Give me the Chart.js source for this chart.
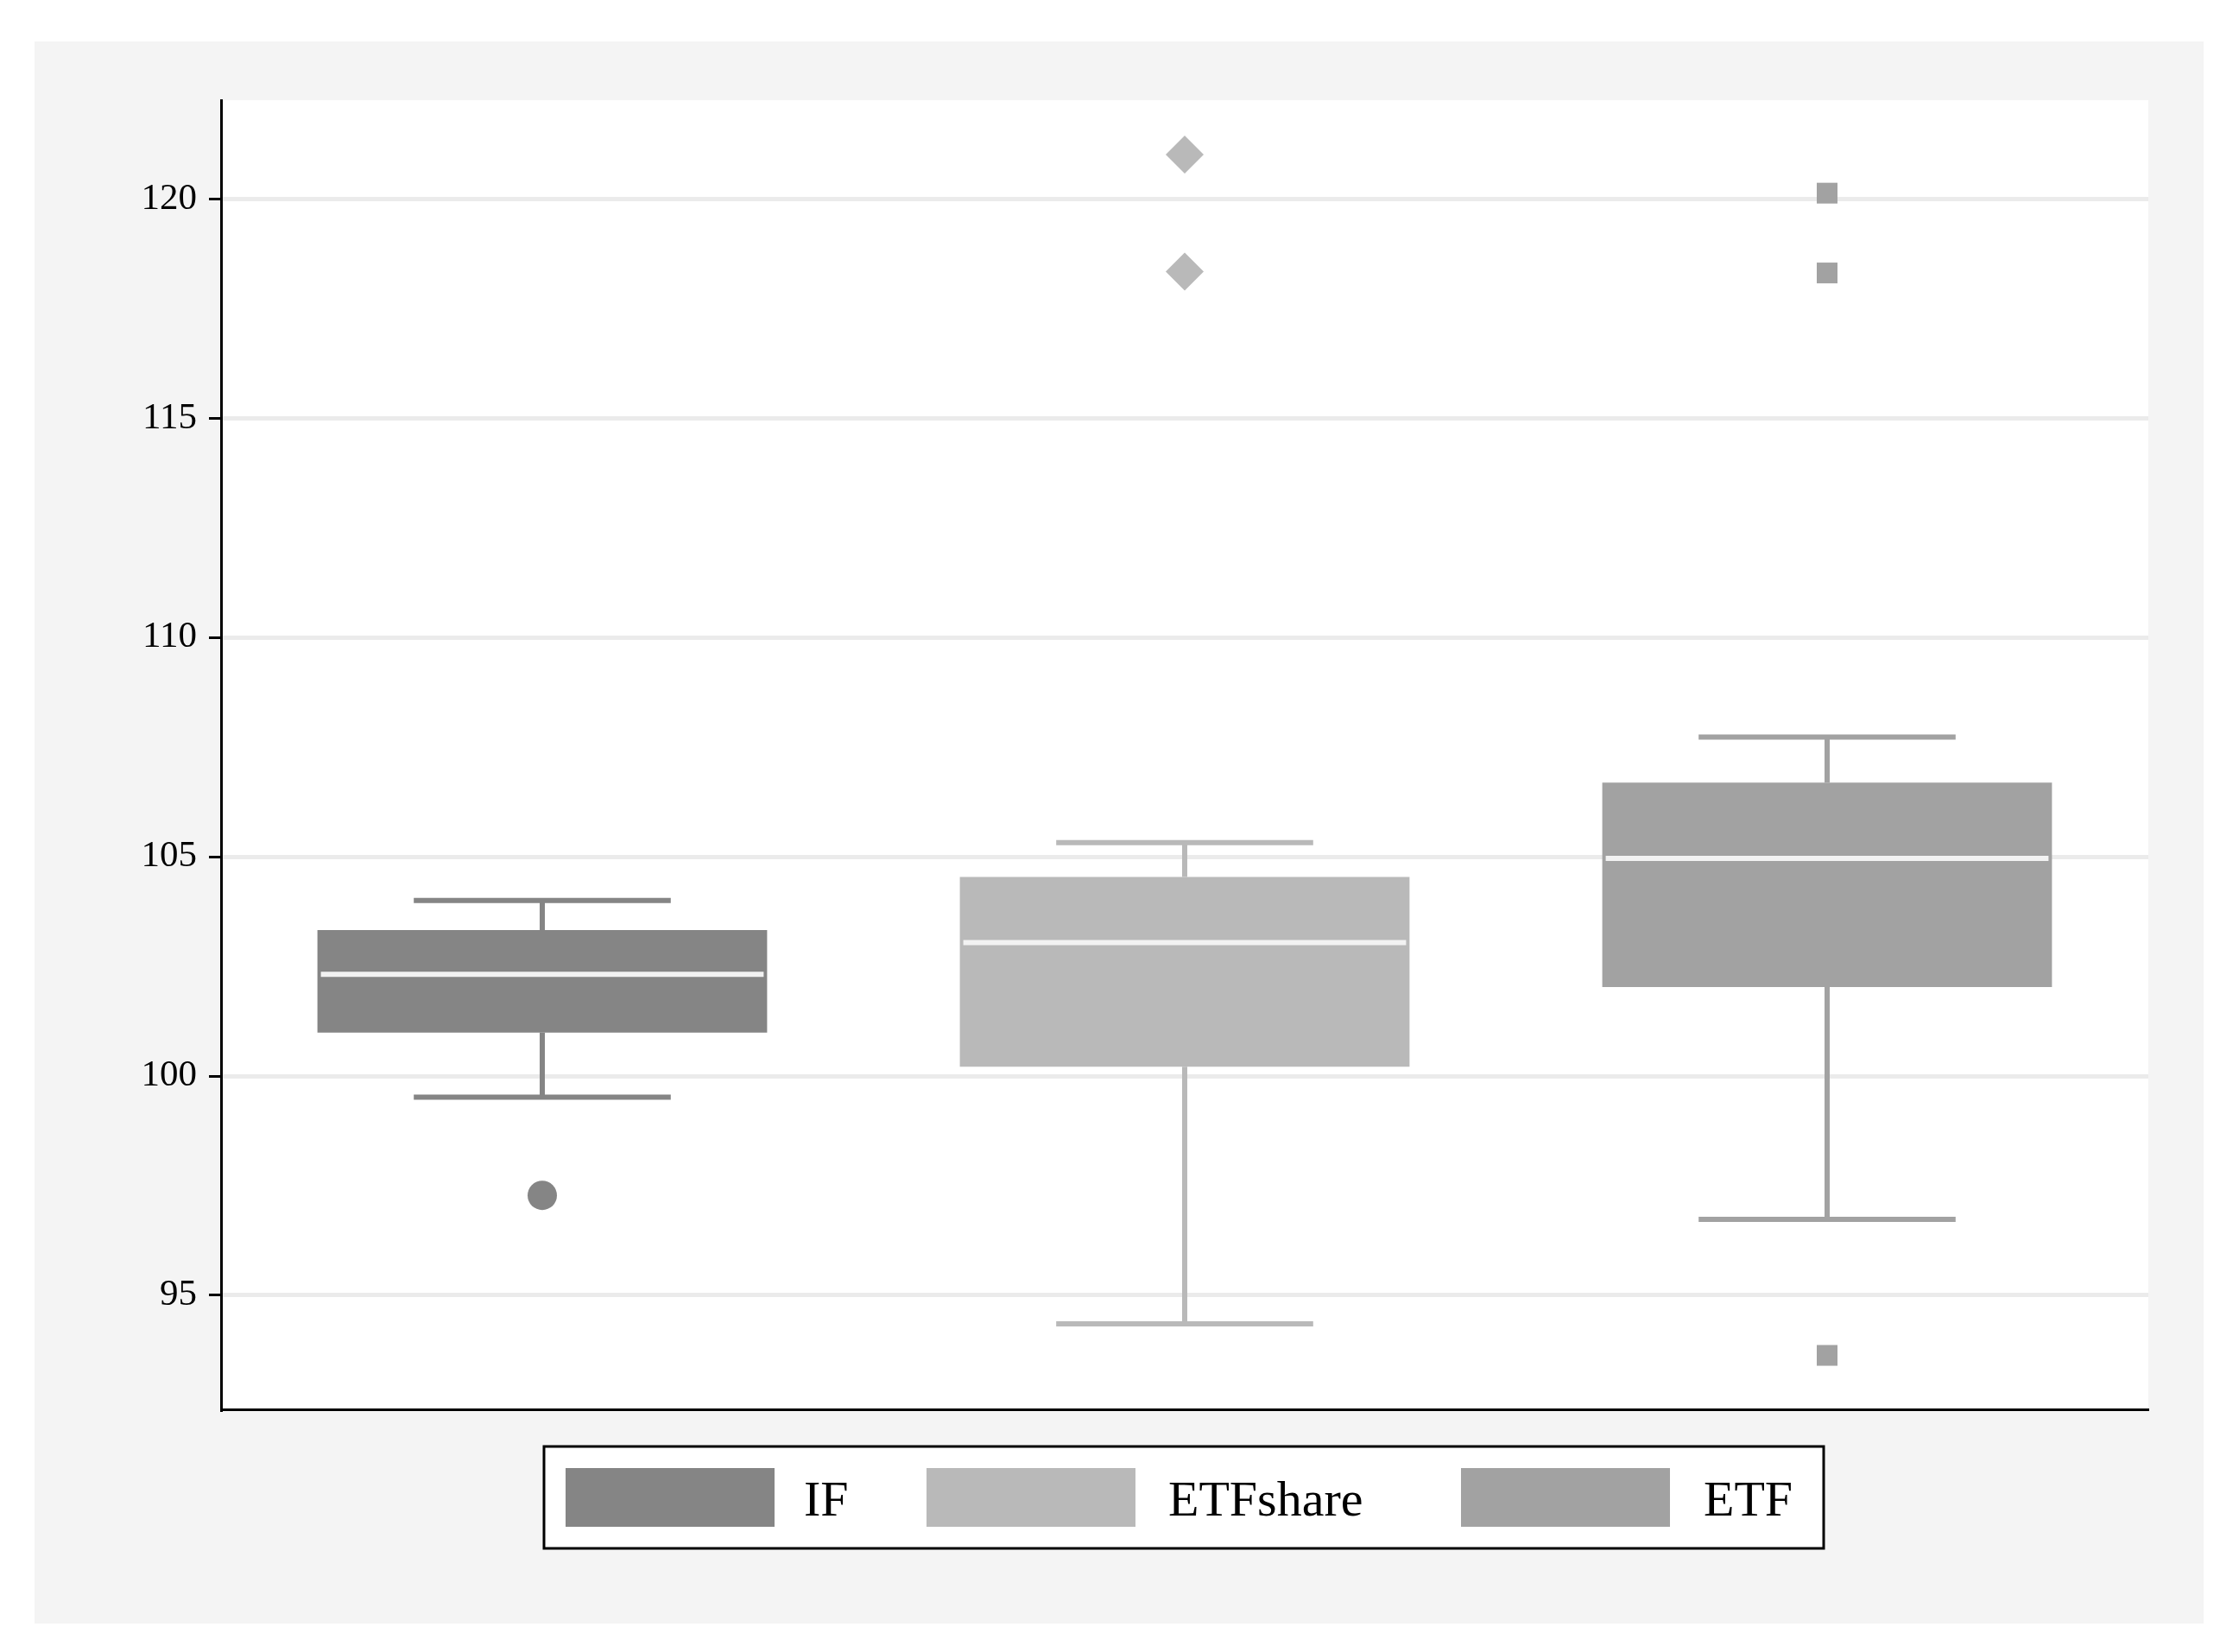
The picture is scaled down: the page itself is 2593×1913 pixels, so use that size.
<!DOCTYPE html>
<html><head><meta charset="utf-8">
<script src="https://cdn.jsdelivr.net/npm/chart.js@4"></script>
<style>html,body{margin:0;padding:0;background:#fff}#wrap{width:2593px;height:1913px}</style>
</head><body><div id="wrap"><canvas id="c" width="2593" height="1913"></canvas></div>
<script>
const categories = ['IF','ETFshare','ETF'];
const colors = ['#858585','#b9b9b9','#a2a2a2'];
const whiskerLow = [99.52, 94.35, 96.73];
const q1 = [100.99, 100.21, 102.03];
const medians = [102.32, 103.04, 104.96];
const q3 = [103.33, 104.54, 106.69];
const whiskerHigh = [104.0, 105.32, 107.73];
const outliers = [[97.28],[121.01,118.34],[120.13,118.31,93.63]];
const pointStyles = ['circle','rectRot','rect'];
const yTicks = [95,100,105,110,115,120];

const datasets = categories.map((c,i)=>({
  type:'bar', label:c, backgroundColor:colors[i], grouped:false,
  barPercentage:0.7, categoryPercentage:1, borderWidth:0,
  data: categories.map((_,j)=> j===i ? [q1[i],q3[i]] : null)
}));
categories.forEach((c,i)=>datasets.push({
  type:'line', label:'_out', showLine:false, pointStyle:pointStyles[i],
  pointRadius: i===1?22:17, pointBackgroundColor:colors[i], pointBorderWidth:0,
  data: outliers[i].map(v=>({x:c,y:v}))
}));

const boxPlugin = {
  id:'box',
  beforeDraw(chart){
    const ctx=chart.ctx, a=chart.chartArea;
    ctx.save();
    ctx.fillStyle='#fff';ctx.fillRect(0,0,chart.width,chart.height);
    ctx.fillStyle='#f4f4f4';ctx.fillRect(40,48,2512,1832);
    ctx.fillStyle='#fff';ctx.fillRect(a.left,a.top,a.right-a.left,a.bottom-a.top);
    ctx.restore();
  },
  afterDatasetsDraw(chart){
    const ctx=chart.ctx, y=chart.scales.y, x=chart.scales.x;
    ctx.save();
    categories.forEach((c,i)=>{
      const cx=x.getPixelForValue(i);
      const cw=(x.right-x.left)/categories.length;
      const bw=cw*0.7, ww=cw*0.4;
      ctx.strokeStyle=colors[i];ctx.lineWidth=6;ctx.lineCap='butt';
      ctx.beginPath();
      ctx.moveTo(cx,y.getPixelForValue(q3[i]));ctx.lineTo(cx,y.getPixelForValue(whiskerHigh[i]));
      ctx.moveTo(cx,y.getPixelForValue(q1[i]));ctx.lineTo(cx,y.getPixelForValue(whiskerLow[i]));
      ctx.moveTo(cx-ww/2,y.getPixelForValue(whiskerHigh[i]));ctx.lineTo(cx+ww/2,y.getPixelForValue(whiskerHigh[i]));
      ctx.moveTo(cx-ww/2,y.getPixelForValue(whiskerLow[i]));ctx.lineTo(cx+ww/2,y.getPixelForValue(whiskerLow[i]));
      ctx.stroke();
      ctx.strokeStyle='#f2f2f2';ctx.lineWidth=6;
      ctx.beginPath();
      ctx.moveTo(cx-bw/2+4,y.getPixelForValue(medians[i]));ctx.lineTo(cx+bw/2-4,y.getPixelForValue(medians[i]));
      ctx.stroke();
    });
    ctx.restore();
  },
  afterDraw(chart){
    const ctx=chart.ctx;
    ctx.save();
    ctx.fillStyle='#fff';ctx.fillRect(630,1675,1482,118);
    ctx.strokeStyle='#000';ctx.lineWidth=3;ctx.strokeRect(630,1675,1482,118);
    const sw=[655,1073,1692], tx=[931,1353,1973];
    ctx.font='58px "Liberation Serif"';ctx.textBaseline='middle';
    categories.forEach((c,i)=>{
      ctx.fillStyle=colors[i];ctx.fillRect(sw[i],1700,242,68);
      ctx.fillStyle='#000';ctx.fillText(c,tx[i],1740);
    });
    ctx.restore();
  }
};

new Chart(document.getElementById('c'),{
  data:{labels:categories,datasets},
  plugins:[boxPlugin],
  options:{
    responsive:false,animation:false,
    layout:{padding:{left:40,top:116,right:105,bottom:281}},
    plugins:{legend:{display:false},tooltip:{enabled:false}},
    scales:{
      x:{type:'category',ticks:{display:false},grid:{display:false,drawTicks:false},
         border:{color:'#000',width:3},afterFit(s){s.height=0;}},
      y:{min:92.4,max:122.25,
         afterBuildTicks(s){s.ticks=yTicks.map(v=>({value:v}));},
         afterFit(s){s.width=216;},
         ticks:{font:{family:'Liberation Serif',size:43},color:'#000',padding:14},
         grid:{color:'#ebebeb',lineWidth:5,drawTicks:true,tickLength:14,tickColor:'#000',tickWidth:3},
         border:{color:'#000',width:3}}
    }
  }
});
</script></body></html>
